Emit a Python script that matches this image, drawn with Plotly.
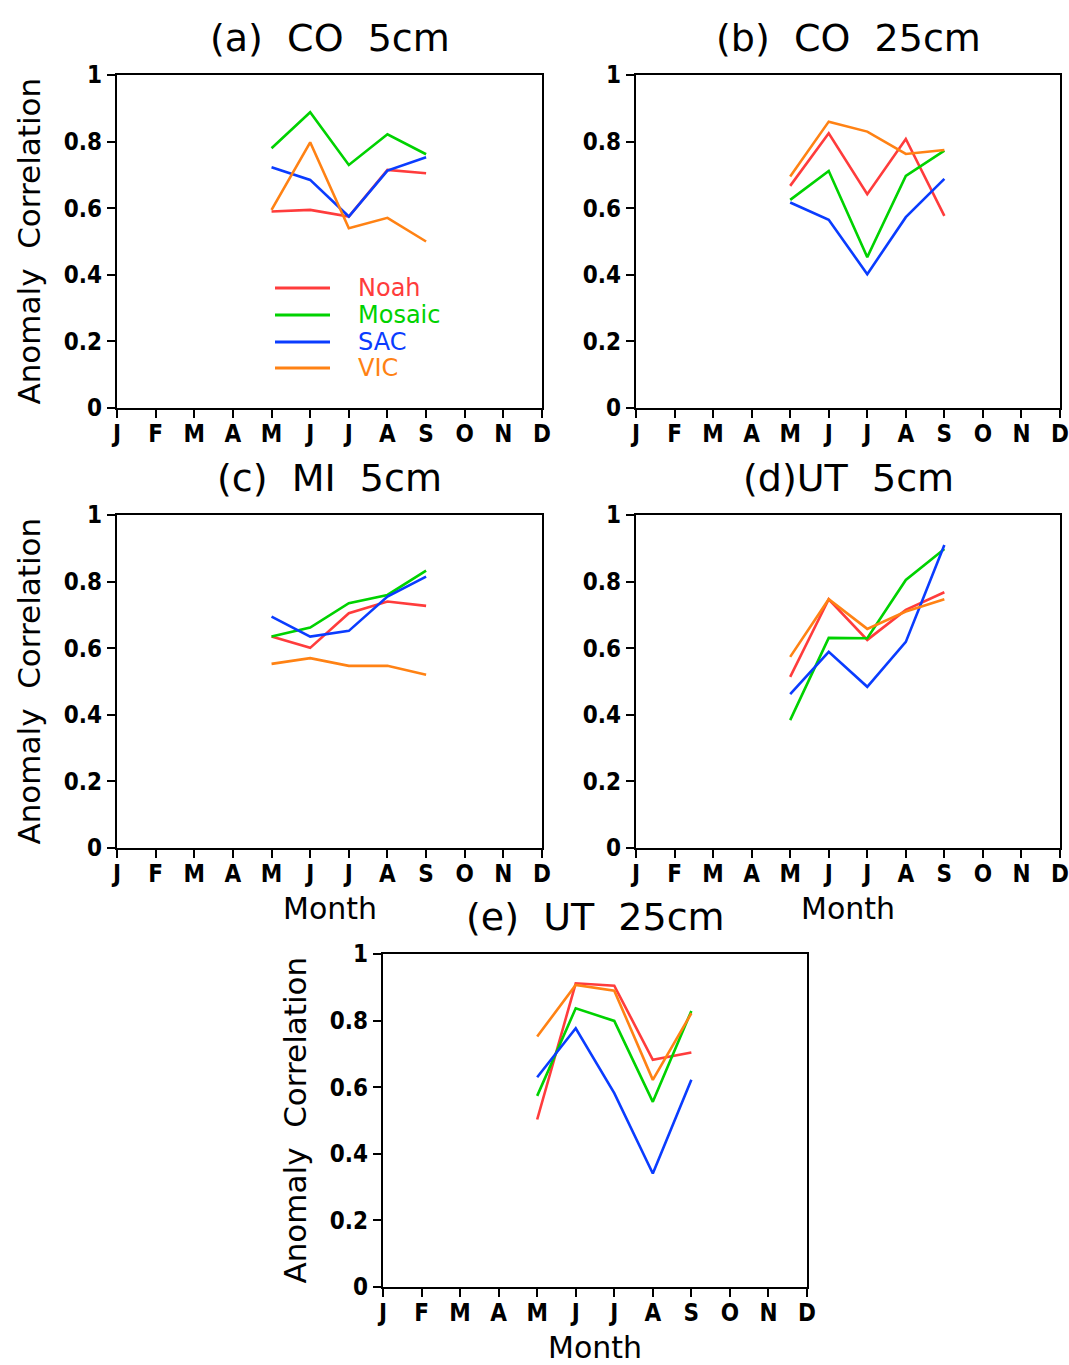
import plotly.graph_objects as go

W, H = 1069, 1365
months = ["J", "F", "M", "A", "M", "J", "J", "A", "S", "O", "N", "D"]
month_idx = list(range(12))
data_months = [4, 5, 6, 7, 8]  # May..Sep

models = ["Noah", "Mosaic", "SAC", "VIC"]
colors = ["#ff3c3c", "#00d200", "#0a3cff", "#ff8214"]

# panel values: Noah, Mosaic, SAC, VIC  (May..Sep)
co5_noah = [0.590, 0.595, 0.575, 0.715, 0.705]
co5_mosaic = [0.780, 0.888, 0.730, 0.822, 0.762]
co5_sac = [0.723, 0.685, 0.575, 0.713, 0.753]
co5_vic = [0.595, 0.798, 0.540, 0.571, 0.500]

co25_noah = [0.667, 0.825, 0.642, 0.808, 0.577]
co25_mosaic = [0.625, 0.712, 0.453, 0.697, 0.773]
co25_sac = [0.617, 0.565, 0.402, 0.573, 0.688]
co25_vic = [0.695, 0.860, 0.830, 0.763, 0.775]

mi5_noah = [0.635, 0.601, 0.705, 0.740, 0.727]
mi5_mosaic = [0.635, 0.662, 0.735, 0.760, 0.833]
mi5_sac = [0.695, 0.635, 0.652, 0.755, 0.815]
mi5_vic = [0.553, 0.570, 0.547, 0.547, 0.520]

ut5_noah = [0.514, 0.747, 0.625, 0.715, 0.768]
ut5_mosaic = [0.384, 0.631, 0.630, 0.805, 0.898]
ut5_sac = [0.462, 0.589, 0.484, 0.619, 0.910]
ut5_vic = [0.574, 0.747, 0.658, 0.710, 0.747]

ut25_noah = [0.503, 0.912, 0.905, 0.682, 0.704]
ut25_mosaic = [0.574, 0.837, 0.799, 0.556, 0.829]
ut25_sac = [0.630, 0.777, 0.582, 0.341, 0.622]
ut25_vic = [0.752, 0.907, 0.890, 0.622, 0.822]

y_ticks = [0, 0.2, 0.4, 0.6, 0.8, 1]
y_ticktext = ["0", "0.2", "0.4", "0.6", "0.8", "1"]

panels = [
    dict(title="(a)  CO  5cm", vals=[co5_noah, co5_mosaic, co5_sac, co5_vic],
         box=(117, 542, 75, 408), ytitle=True, month=False),
    dict(title="(b)  CO  25cm", vals=[co25_noah, co25_mosaic, co25_sac, co25_vic],
         box=(636, 1060, 75, 408), ytitle=False, month=False),
    dict(title="(c)  MI  5cm", vals=[mi5_noah, mi5_mosaic, mi5_sac, mi5_vic],
         box=(117, 542, 515, 848), ytitle=True, month=True),
    dict(title="(d)UT  5cm", vals=[ut5_noah, ut5_mosaic, ut5_sac, ut5_vic],
         box=(636, 1060, 515, 848), ytitle=False, month=True),
    dict(title="(e)  UT  25cm", vals=[ut25_noah, ut25_mosaic, ut25_sac, ut25_vic],
         box=(383, 807, 954, 1287), ytitle=True, month=True),
]

FONT = "DejaVu Sans"
TICKFONT = "DejaVu Sans Condensed"

def px(x):
    return x / W

def py(y):
    return 1 - y / H

fig = go.Figure()
annotations = []
layout = {}
for i, p in enumerate(panels):
    n = i + 1
    xa = "x" if n == 1 else f"x{n}"
    ya = "y" if n == 1 else f"y{n}"
    x0, x1, y0, y1 = p["box"]
    for m, c, v in zip(models, colors, p["vals"]):
        fig.add_trace(go.Scatter(x=data_months, y=v, mode="lines", name=m,
                                 line=dict(color=c, width=2.6),
                                 xaxis=xa, yaxis=ya, showlegend=False))
    common = dict(showline=True, linewidth=2.2, linecolor="black", mirror=True,
                  ticks="outside", ticklen=8, tickwidth=2, tickcolor="black",
                  showgrid=False, zeroline=False, automargin=False,
                  tickfont=dict(family=TICKFONT, size=24, color="black", weight="bold"))
    layout[f"xaxis{'' if n == 1 else n}"] = dict(
        domain=[px(x0), px(x1)], anchor=ya, range=[0, 11],
        tickvals=month_idx, ticktext=months, ticklabelstandoff=-5, **common)
    layout[f"yaxis{'' if n == 1 else n}"] = dict(
        domain=[py(y1), py(y0)], anchor=xa, range=[0, 1],
        tickvals=y_ticks, ticktext=y_ticktext, **common)
    cx = (x0 + x1) / 2
    annotations.append(dict(text=p["title"], x=px(cx), y=py(y0 - 37), xref="paper", yref="paper",
                            showarrow=False, xanchor="center", yanchor="middle",
                            font=dict(family=FONT, size=38, color="black")))
    if p["ytitle"]:
        annotations.append(dict(text="Anomaly  Correlation", x=px(x0 - 89), y=py((y0 + y1) / 2),
                                xref="paper", yref="paper", showarrow=False, textangle=-90,
                                xanchor="center", yanchor="middle",
                                font=dict(family=FONT, size=31, color="black")))
    if p["month"]:
        annotations.append(dict(text="Month", x=px(cx), y=py(y1 + 60), xref="paper", yref="paper",
                                showarrow=False, xanchor="center", yanchor="middle",
                                font=dict(family=FONT, size=30, color="black")))

# legend in panel (a)
shapes = []
leg_y = [288, 315, 342, 368]
for m, c, ly in zip(models, colors, leg_y):
    shapes.append(dict(type="line", xref="paper", yref="paper", x0=px(275), x1=px(330),
                       y0=py(ly), y1=py(ly), line=dict(color=c, width=3)))
    annotations.append(dict(text=m, x=px(356), y=py(ly), xref="paper", yref="paper",
                            showarrow=False, xanchor="left", yanchor="middle",
                            font=dict(family=FONT, size=24, color=c)))

fig.update_layout(width=W, height=H, margin=dict(l=0, r=0, t=0, b=0),
                  plot_bgcolor="white", paper_bgcolor="white",
                  annotations=annotations, shapes=shapes, **layout)
fig.write_html("out.html")
